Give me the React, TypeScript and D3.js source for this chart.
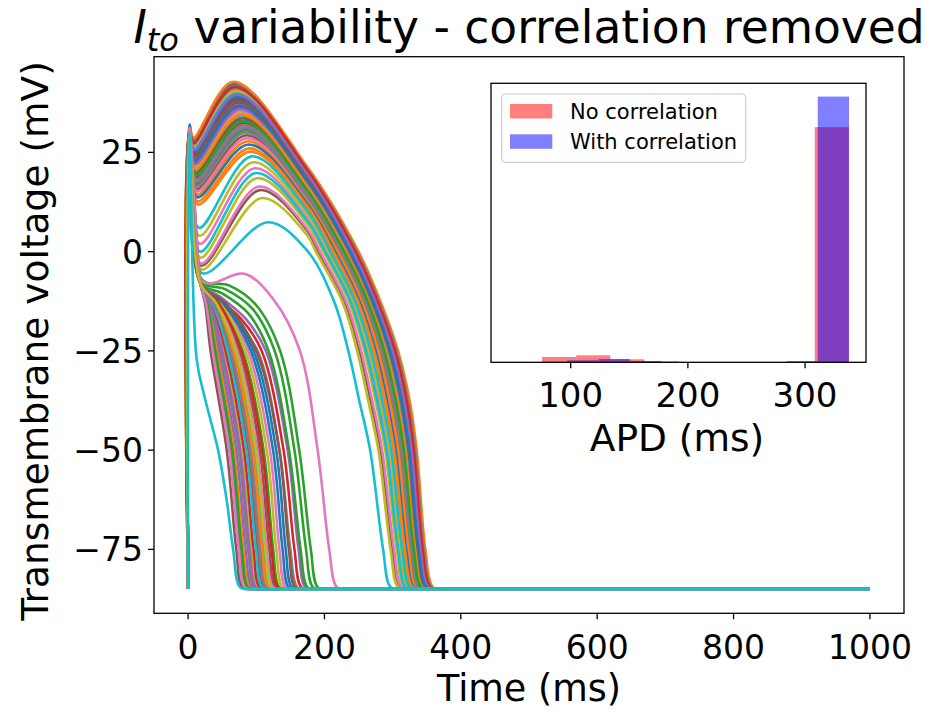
import React from "react";
import * as d3 from "d3";

// ---------- data ----------
const X_TICKS = [0, 200, 400, 600, 800, 1000];
const Y_TICKS = [-75, -50, -25, 0, 25];
const APD_TICKS = [100, 200, 300];
const REST_V = -85;
const T_END = 1000;

// Each trace: flattened [t, v] key points (after the resting start at t=0).
// The last pair is where the trace settles at rest; it then stays flat to T_END.
// Dome traces
const D1 = [2, 31, 8.1, 28.7, 66.3, 42.8, 175, 21.3, 249.9, 0, 282, -12.5, 307.9, -25, 324.9, -37.5, 335.3, -50, 348, -75, 359, -84.5, 376, -85];
const D2 = [2, 32, 8.3, 28.1, 67, 42.2, 175, 20.9, 248.7, 0, 280.9, -12.5, 306.8, -25, 323.7, -37.5, 334.2, -50, 347, -75, 358, -84.5, 375, -85];
const D3 = [2, 30, 8.4, 27.7, 67.7, 41.8, 175, 20.7, 247.5, 0, 279.8, -12.5, 305.6, -25, 322.6, -37.5, 333.1, -50, 346, -75, 357, -84.5, 374, -85];
const D4 = [2, 31, 8.6, 27.1, 68.6, 41.2, 175, 20.35, 246.3, 0, 278.7, -12.5, 304.4, -25, 321.4, -37.5, 332, -50, 345, -75, 356, -84.5, 373, -85];
const D5 = [2, 30, 8.7, 26.8, 69.1, 40.8, 175, 20.1, 245.1, 0, 277.6, -12.5, 303.3, -25, 320.3, -37.5, 330.9, -50, 344, -75, 355, -84.5, 372, -85];
const D6 = [2, 29, 8.9, 26.3, 69.9, 40.3, 175, 19.8, 241.9, 0, 274.5, -12.5, 300.2, -25, 317.1, -37.5, 327.8, -50, 341, -75, 352, -84.5, 369, -85];
const D7 = [2, 30, 9, 25.9, 70.4, 39.9, 175, 19.6, 243.8, 0, 276.5, -12.5, 302, -25, 319, -37.5, 329.8, -50, 343, -75, 354, -84.5, 371, -85];
const D8 = [2, 31, 9.2, 25.4, 71.1, 39.4, 175, 19.3, 242.6, 0, 275.4, -12.5, 300.9, -25, 317.8, -37.5, 328.7, -50, 342, -75, 353, -84.5, 370, -85];
const D9 = [2, 30, 9.4, 25, 71.9, 38.9, 175, 19, 240.4, 0, 273.3, -12.5, 298.7, -25, 315.6, -37.5, 326.6, -50, 340, -75, 351, -84.5, 368, -85];
const D10 = [2, 29, 9.5, 24.6, 72.4, 38.5, 175, 18.75, 241.2, 0, 274.2, -12.5, 299.6, -25, 316.5, -37.5, 327.5, -50, 341, -75, 352, -84.5, 369, -85];
const D11 = [2, 30, 9.7, 24.1, 73.2, 38, 175, 18.5, 239, 0, 272.2, -12.5, 297.5, -25, 314.3, -37.5, 325.4, -50, 339, -75, 350, -84.5, 367, -85];
const D12 = [2, 31, 9.8, 23.6, 73.9, 37.5, 175, 18.2, 237.8, 0, 271.1, -12.5, 296.3, -25, 313.2, -37.5, 324.3, -50, 338, -75, 349, -84.5, 366, -85];
const D13 = [2, 30, 10, 23.2, 74.6, 37, 175, 17.9, 238.6, 0, 272, -12.5, 297.1, -25, 314, -37.5, 325.2, -50, 339, -75, 350, -84.5, 367, -85];
const D14 = [2, 29, 10.2, 22.6, 75.4, 36.4, 175, 17.5, 235.4, 0, 268.9, -12.5, 294, -25, 310.8, -37.5, 322.1, -50, 336, -75, 347, -84.5, 364, -85];
const D15 = [2, 30, 10.3, 22.1, 76.2, 35.9, 175, 17.2, 236.2, 0, 269.8, -12.5, 294.8, -25, 311.6, -37.5, 323, -50, 337, -75, 348, -84.5, 365, -85];
const D16 = [2, 31, 10.5, 21.5, 77, 35.3, 175, 16.9, 234, 0, 267.7, -12.5, 292.6, -25, 309.4, -37.5, 320.9, -50, 335, -75, 346, -84.5, 363, -85];
const D17 = [2, 30, 10.7, 21.1, 77.7, 34.8, 175, 16.6, 232.8, 0, 266.6, -12.5, 291.5, -25, 308.2, -37.5, 319.9, -50, 334, -75, 345, -84.5, 362, -85];
const D18 = [2, 29, 10.9, 20.5, 78.6, 34.2, 175, 16.2, 233.5, 0, 267.5, -12.5, 292.3, -25, 309, -37.5, 320.7, -50, 335, -75, 346, -84.5, 363, -85];
const D19 = [2, 30, 11.1, 19.9, 79.4, 33.6, 175, 15.9, 230.3, 0, 264.4, -12.5, 289.1, -25, 305.8, -37.5, 317.6, -50, 332, -75, 343, -84.5, 360, -85];
const D20 = [2, 31, 11.3, 19.4, 80.3, 33, 175, 15.5, 231.1, 0, 265.3, -12.5, 289.9, -25, 306.6, -37.5, 318.5, -50, 333, -75, 344, -84.5, 361, -85];
const D21 = [2, 30, 11.5, 18.8, 81.2, 32.4, 175, 15.2, 227.8, 0, 262.2, -12.5, 286.7, -25, 303.4, -37.5, 315.4, -50, 330, -75, 341, -84.5, 358, -85];
const D22 = [2, 29, 11.7, 18.2, 82, 31.8, 175, 14.8, 228.6, 0, 263.1, -12.5, 287.5, -25, 304.2, -37.5, 316.3, -50, 331, -75, 342, -84.5, 359, -85];
const D23 = [2, 30, 11.9, 17.6, 82.9, 31.2, 175, 14.4, 225.4, 0, 260, -12.5, 284.3, -25, 301, -37.5, 313.2, -50, 328, -75, 339, -84.5, 356, -85];
const D24 = [2, 31, 12.1, 17.1, 83.7, 30.6, 175, 14.1, 226.1, 0, 260.9, -12.5, 285.2, -25, 301.8, -37.5, 314.1, -50, 329, -75, 340, -84.5, 357, -85];
const D25 = [2, 30, 12.3, 16.5, 84.6, 30, 175, 13.7, 223.9, 0, 258.8, -12.5, 283, -25, 299.6, -37.5, 312, -50, 327, -75, 338, -84.5, 355, -85];
const D26 = [2, 29, 12.5, 15.8, 85.6, 29.3, 175, 13.3, 222.6, 0, 257.7, -12.5, 281.8, -25, 298.4, -37.5, 310.9, -50, 326, -75, 337, -84.5, 354, -85];
const D27 = [2, 30, 12.8, 15.2, 86.6, 28.6, 175, 12.9, 218.3, 0, 253.6, -12.5, 277.5, -25, 294.2, -37.5, 306.8, -50, 322, -75, 333, -84.5, 350, -85];
const D28 = [2, 31, 13, 14.4, 87.7, 27.8, 175, 12.4, 220, 0, 255.4, -12.5, 279.3, -25, 295.9, -37.5, 308.6, -50, 324, -75, 335, -84.5, 352, -85];
const D29 = [2, 30, 13.3, 13.7, 88.9, 27, 175, 12, 215.7, 0, 251.3, -12.5, 275, -25, 291.6, -37.5, 304.5, -50, 320, -75, 331, -84.5, 348, -85];
const D30 = [2, 29, 13.6, 12.7, 90.3, 26, 175, 11.4, 213.3, 0, 249.1, -12.5, 272.7, -25, 289.3, -37.5, 302.3, -50, 318, -75, 329, -84.5, 346, -85];
const D31 = [2, 30, 13.9, 11.9, 91.5, 25.2, 175, 10.9, 212, 0, 248, -12.5, 271.5, -25, 288, -37.5, 301.2, -50, 317, -75, 328, -84.5, 345, -85];
const D32 = [2, 30, 16, 6, 93.2, 24, 175, 10.2, 208.5, 0, 244.8, -12.5, 268.1, -25, 284.6, -37.5, 297.9, -50, 314, -75, 325, -84.5, 342, -85];
const D33 = [2, 31, 16.5, 4, 95.3, 22.5, 175, 9.3, 205.9, 0, 242.5, -12.5, 265.6, -25, 282.1, -37.5, 295.7, -50, 312, -75, 323, -84.5, 340, -85];
const D34 = [2, 30, 17, 2, 97.5, 21, 175, 8.4, 203.4, 0, 240.3, -12.5, 263.2, -25, 279.6, -37.5, 293.4, -50, 310, -75, 321, -84.5, 338, -85];
const D35 = [2, 29, 17.5, 0, 99.2, 19.8, 175, 7.7, 200.9, 0, 238.1, -12.5, 260.8, -25, 277.2, -37.5, 291.2, -50, 308, -75, 319, -84.5, 336, -85];
const D36 = [2, 30, 18, -1.5, 101, 18.5, 175, 6.9, 198.4, 0, 235.9, -12.5, 258.4, -25, 274.7, -37.5, 289, -50, 306, -75, 317, -84.5, 334, -85];
const D37 = [2, 31, 18.5, -3, 104, 16.4, 175, 5.7, 193.5, 0, 231.5, -12.5, 253.8, -25, 270, -37.5, 284.6, -50, 302, -75, 313, -84.5, 330, -85];
const D38 = [2, 30, 19, -3.5, 105.3, 15.5, 175, 5.2, 191.2, 0, 229.4, -12.5, 251.5, -25, 267.7, -37.5, 282.4, -50, 300, -75, 311, -84.5, 328, -85];
const D39 = [2, 29, 19.5, -4.5, 108.2, 13.5, 175, 4, 187.4, 0, 226, -12.5, 247.9, -25, 264.1, -37.5, 279.1, -50, 297, -75, 308, -84.5, 325, -85];
const D40 = [2, 30, 20, -5.4, 117, 7.4, 174, 0.4, 214, -12.5, 235, -25, 251, -37.5, 267, -50, 286, -75, 297, -84.5, 314, -85];
const E1 = [2, 30, 8.5, 27.4, 68.1, 41.5, 175, 20.5, 245.4, 0, 277.8, -12.5, 303.5, -25, 320.5, -37.5, 331, -50, 344, -75, 355, -84.5, 372, -85];
const E2 = [2, 31, 9.1, 25.6, 70.9, 39.6, 175, 19.4, 241.7, 0, 274.4, -12.5, 300, -25, 316.9, -37.5, 327.7, -50, 341, -75, 352, -84.5, 369, -85];
const E3 = [2, 30, 9.7, 23.9, 73.4, 37.8, 175, 18.3, 237, 0, 270.1, -12.5, 295.4, -25, 312.3, -37.5, 323.4, -50, 337, -75, 348, -84.5, 365, -85];
const E4 = [2, 29, 10, 23, 74.9, 36.8, 175, 17.75, 237.6, 0, 271, -12.5, 296.1, -25, 312.9, -37.5, 324.2, -50, 338, -75, 349, -84.5, 366, -85];
const E5 = [2, 30, 10.8, 20.8, 78.2, 34.5, 175, 16.4, 231.7, 0, 265.6, -12.5, 290.4, -25, 307.1, -37.5, 318.8, -50, 333, -75, 344, -84.5, 361, -85];
const E6 = [2, 31, 11.4, 19.2, 80.6, 32.8, 175, 15.4, 229, 0, 263.3, -12.5, 287.8, -25, 304.6, -37.5, 316.5, -50, 331, -75, 342, -84.5, 359, -85];

// Loss-of-dome (short) traces
const S_G1 = [2, 30, 20, -7, 60, -8.5, 100, -13.5, 135, -25, 163, -50, 180, -75, 190, -84.5, 205, -85];
const S_G2 = [2, 30, 20, -7.5, 55, -9.5, 95, -14.5, 127, -25, 156, -50, 173, -75, 183, -84.5, 198, -85];
const S_G3 = [2, 30, 20, -8, 50, -10.5, 88, -15.5, 118, -25, 148, -50, 165, -75, 175, -84.5, 190, -85];
const S_RED = [2, 30, 20, -8, 45, -12, 78, -17, 108, -25, 140, -50, 156, -75, 166, -84.5, 181, -85];
const S_PUR = [2, 30, 20, -8, 48, -11.5, 85, -17, 114, -25, 146, -50, 162, -75, 172, -84.5, 187, -85];
const S_GRY = [2, 30, 19, -8, 42, -12.5, 72, -18, 102, -25, 134, -50, 150, -75, 160, -84.5, 175, -85];
const S_PINK = [2, 30, 22, -7.6, 83, -5.6, 125, -12, 164, -25, 190, -50, 207, -75, 218, -84.5, 233, -85];
const S_CYAN = [2, 30, 12.5, -27, 24.8, -37, 44, -50, 56.6, -62.6, 66, -75, 76, -84.5, 90, -85];
const B1 = [2, 30, 18, -8, 36.9, -13, 60, -25, 87.8, -50, 101.8, -75, 110.8, -84.5, 125.8, -85];
const B2 = [2, 29, 18, -8, 30.2, -13, 45, -25, 70.5, -50, 84.5, -75, 93.5, -84.5, 108.5, -85];
const B3 = [2, 30, 18, -8, 43.7, -13, 75, -25, 105, -50, 119, -75, 128, -84.5, 143, -85];
const B4 = [2, 31, 18, -8, 49.5, -13, 88, -25, 120, -50, 134, -75, 143, -84.5, 158, -85];
const B5 = [2, 30, 18, -8, 27, -13, 38, -25, 62.5, -50, 76.5, -75, 85.5, -84.5, 100.5, -85];
const B6 = [2, 29, 18, -8, 33.3, -13, 52, -25, 78.6, -50, 92.6, -75, 101.6, -84.5, 116.6, -85];
const B7 = [2, 30, 18, -8, 40.5, -13, 68, -25, 97, -50, 111, -75, 120, -84.5, 135, -85];
const B8 = [2, 30, 18, -8, 53.1, -13, 96, -25, 129.2, -50, 143.2, -75, 152.2, -84.5, 167.2, -85];
const B9 = [2, 31, 18, -8, 28.8, -13, 42, -25, 67, -50, 81.1, -75, 90.1, -84.5, 105.1, -85];
const B10 = [2, 30, 18, -8, 45.9, -13, 80, -25, 110.8, -50, 124.8, -75, 133.8, -84.5, 148.8, -85];
const B11 = [2, 29, 18, -8, 34.7, -13, 55, -25, 82, -50, 96, -75, 105, -84.5, 120, -85];
const B12 = [2, 30, 18, -8, 38.7, -13, 64, -25, 92.4, -50, 106.4, -75, 115.4, -84.5, 130.4, -85];
const B13 = [2, 30, 18, -8, 24.8, -13, 33, -25, 56.7, -50, 70.7, -75, 79.7, -84.5, 94.7, -85];
const B14 = [2, 31, 18, -8, 42.3, -13, 72, -25, 101.6, -50, 115.6, -75, 124.6, -84.5, 139.6, -85];
const B15 = [2, 30, 18, -8, 31.5, -13, 48, -25, 74, -50, 88, -75, 97, -84.5, 112, -85];
const B16 = [2, 29, 18, -8, 47.7, -13, 84, -25, 115.4, -50, 129.4, -75, 138.4, -84.5, 153.4, -85];
const B17 = [2, 30, 18, -8, 36, -13, 58, -25, 85.5, -50, 99.5, -75, 108.5, -84.5, 123.5, -85];
const B18 = [2, 30, 18, -8, 51.3, -13, 92, -25, 124.6, -50, 138.6, -75, 147.6, -84.5, 162.6, -85];
const B19 = [2, 31, 18, -8, 39.6, -13, 66, -25, 94.7, -50, 108.7, -75, 117.7, -84.5, 132.7, -85];
const B20 = [2, 30, 18, -8, 28, -13, 40, -25, 64.8, -50, 78.8, -75, 87.8, -84.5, 102.8, -85];
const B21 = [2, 29, 18, -8, 45, -13, 78, -25, 108.5, -50, 122.5, -75, 131.5, -84.5, 146.5, -85];
const B22 = [2, 30, 18, -8, 32.4, -13, 50, -25, 76.3, -50, 90.3, -75, 99.3, -84.5, 114.3, -85];
const B23 = [2, 30, 18, -8, 54.9, -13, 100, -25, 133.8, -50, 147.8, -75, 156.8, -84.5, 171.8, -85];
const B24 = [2, 31, 18, -8, 26.1, -13, 36, -25, 60.2, -50, 74.2, -75, 83.2, -84.5, 98.2, -85];
const B25 = [2, 30, 18, -8, 37.8, -13, 62, -25, 90.1, -50, 104.1, -75, 113.1, -84.5, 128.1, -85];
const B26 = [2, 29, 18, -8, 41.4, -13, 70, -25, 99.3, -50, 113.3, -75, 122.3, -84.5, 137.3, -85];

// plotting order (colour follows the default 10-colour cycle)
const TRACES = [
  D2, D1, D11, D12, D13, D14, D16, D3, D17, D18,
  D20, D5, D24, D21, D23, D26, D27, D4, D6, D7,
  D8, D31, S_G1, D10, D15, D19, D34, D22, D36, D35,
  D9, D28, S_G2, S_RED, S_PUR, D38, D37, D25, D39, D40,
  D29, D30, S_G3, E1, E2, E3, S_PINK, S_GRY, D33, D32,
  E4, E5, E6, B1, B2, B3, B4, B5, B6, B7,
  B8, B9, B10, B11, B12, B13, B14, B15, B16, B17,
  B18, B19, B20, B21, B22, B23, B24, B25, B26, S_CYAN,
];

// APD histograms (density)
const RED_EDGES = [75.6, 104.7, 133.8, 162.9, 192.0, 221.0, 250.1, 279.2, 308.3, 337.4];
const RED_DENSITY = [0.000725, 0.000958, 0.000411, 0.000137, 0, 0, 0, 0, 0.03217];
const BLUE_EDGES = [97.1, 123.8, 150.5, 177.2, 203.9, 230.7, 257.4, 284.1, 310.8, 337.5];
const BLUE_DENSITY = [0.000274, 0.000452, 0.000178, 0, 0, 0, 0, 0.000178, 0.03635];
const LEGEND_LABELS = ["No correlation", "With correlation"];
const LEGEND_COLORS = ["red", "blue"];

const FONT = "DejaVu Sans";
const fmt = (v: number) => (v < 0 ? "\u2212" + Math.abs(v) : String(v));

export default function App() {
  const x = d3.scaleLinear().domain([-50, 1050]).range([154, 904]);
  const y = d3.scaleLinear().domain([-91.1, 49.1]).range([613.3, 56.7]);
  const line = d3
    .line<number[]>()
    .x((d) => x(d[0]))
    .y((d) => y(d[1]))
    .curve(d3.curveCatmullRom.alpha(0.5));
  const colors = d3.schemeCategory10;

  const tracePath = (flat: number[]) => {
    const pts: number[][] = [[0, REST_V]];
    for (let i = 0; i < flat.length; i += 2) pts.push([flat[i], flat[i + 1]]);
    // active part smooth, resting part straight to the end of the record
    return (line(pts) || "") + `L${x(T_END)},${y(REST_V)}`;
  };

  const ix = d3.scaleLinear().domain([32, 352]).range([491, 866]);
  const iy = d3.scaleLinear().domain([0, 0.038168]).range([362.3, 83.3]);

  const bars = (edges: number[], dens: number[], color: string) =>
    dens.map((d, i) =>
      d > 0 ? (
        <rect
          key={color + i}
          x={ix(edges[i])}
          width={ix(edges[i + 1]) - ix(edges[i])}
          y={iy(d)}
          height={iy(0) - iy(d)}
          fill={color}
          fillOpacity={0.5}
        />
      ) : null
    );

  const [xl, xr] = x.range();
  const [yb, yt] = y.range();

  return (
    <svg
      width={930}
      height={715}
      style={{ position: "absolute", left: 0, top: 0, background: "#fff" }}
      fontFamily={FONT}
    >
      <rect x={0} y={0} width={930} height={715} fill="#fff" />
      <defs>
        <clipPath id="mainclip">
          <rect x={xl} y={yt} width={xr - xl} height={yb - yt} />
        </clipPath>
      </defs>
      <g clipPath="url(#mainclip)">
        {TRACES.map((tr, i) => (
          <path
            key={i}
            d={tracePath(tr)}
            fill="none"
            stroke={colors[i % 10]}
            strokeWidth={2.6}
            strokeLinejoin="round"
          />
        ))}
      </g>
      {/* main axes frame */}
      <rect x={xl} y={yt} width={xr - xl} height={yb - yt} fill="none" stroke="#000" strokeWidth={1.3} />
      {X_TICKS.map((t) => (
        <g key={"xt" + t}>
          <line x1={x(t)} x2={x(t)} y1={yb} y2={yb + 6} stroke="#000" strokeWidth={1.3} />
          <text x={x(t)} y={yb + 45.5} fontSize={33} textAnchor="middle">
            {fmt(t)}
          </text>
        </g>
      ))}
      {Y_TICKS.map((t) => (
        <g key={"yt" + t}>
          <line x1={xl - 6} x2={xl} y1={y(t)} y2={y(t)} stroke="#000" strokeWidth={1.3} />
          <text x={xl - 11} y={y(t) + 12} fontSize={33} textAnchor="end">
            {fmt(t)}
          </text>
        </g>
      ))}
      <text x={(xl + xr) / 2} y={701} fontSize={36.5} textAnchor="middle">
        Time (ms)
      </text>
      <text
        transform={`translate(48,341) rotate(-90)`}
        fontSize={37.5}
        textAnchor="middle"
      >
        Transmembrane voltage (mV)
      </text>
      <text x={(xl + xr) / 2} y={43} fontSize={45.5} textAnchor="middle">
        <tspan fontStyle="italic">I</tspan>
        <tspan fontStyle="italic" fontSize={32} dy={8}>
          to
        </tspan>
        <tspan dy={-8}> variability - correlation removed</tspan>
      </text>

      {/* inset */}
      <rect x={491} y={83.3} width={375} height={279} fill="#fff" />
      {bars(RED_EDGES, RED_DENSITY, "red")}
      {bars(BLUE_EDGES, BLUE_DENSITY, "blue")}
      <rect x={491} y={83.3} width={375} height={279} fill="none" stroke="#000" strokeWidth={1.3} />
      {APD_TICKS.map((t) => (
        <g key={"it" + t}>
          <line x1={ix(t)} x2={ix(t)} y1={362.3} y2={368.3} stroke="#000" strokeWidth={1.3} />
          <text x={ix(t)} y={407} fontSize={34} textAnchor="middle">
            {t}
          </text>
        </g>
      ))}
      <text x={677} y={451} fontSize={37.5} textAnchor="middle">
        APD (ms)
      </text>
      {/* legend */}
      <rect x={501.7} y={94} width={244} height={68.3} rx={4} fill="#fff" fillOpacity={0.8} stroke="#ccc" strokeWidth={1.2} />
      {LEGEND_LABELS.map((lab, i) => (
        <g key={lab}>
          <rect x={510} y={104 + i * 30.3} width={42.3} height={14.5} fill={LEGEND_COLORS[i]} fillOpacity={0.5} />
          <text x={570} y={118.5 + i * 30.3} fontSize={21}>
            {lab}
          </text>
        </g>
      ))}
    </svg>
  );
}
